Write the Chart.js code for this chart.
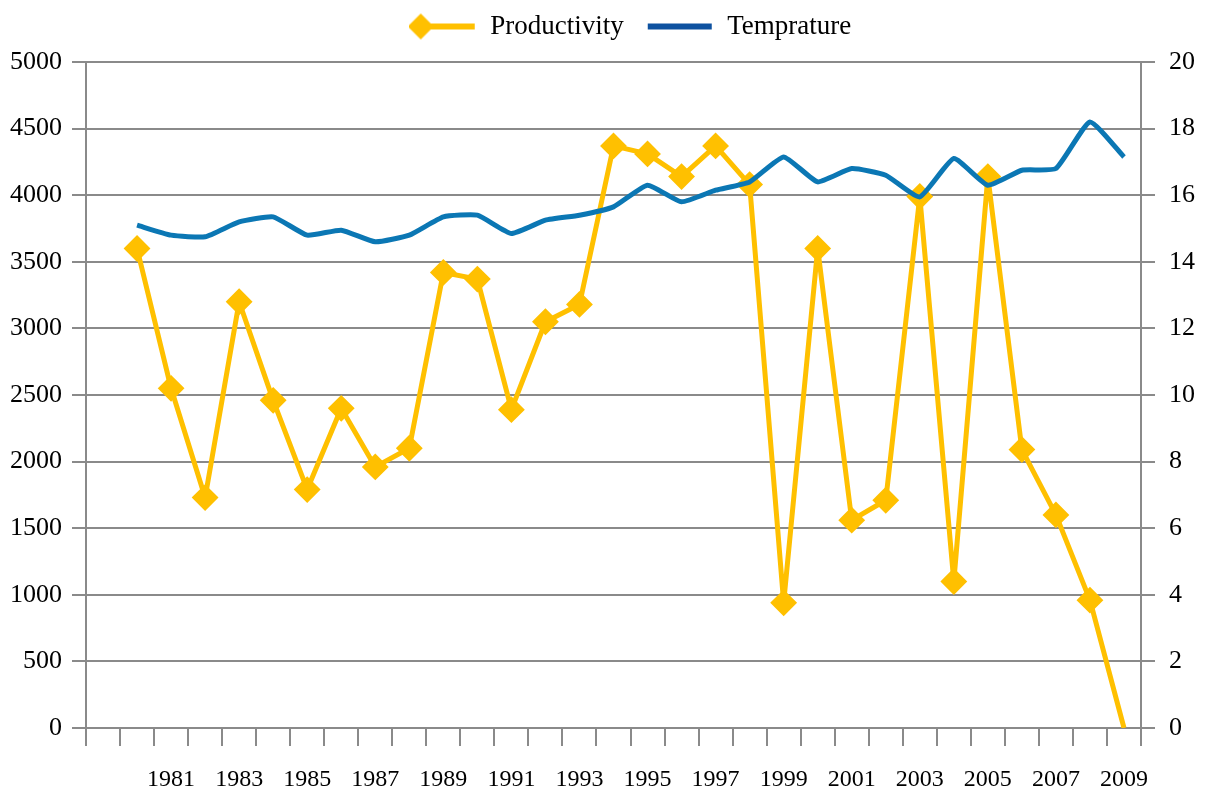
<!DOCTYPE html>
<html>
<head>
<meta charset="utf-8">
<script src="https://cdn.jsdelivr.net/npm/chart.js@4.4.1/dist/chart.umd.min.js"></script>
<style>
  html, body { margin: 0; padding: 0; background: #fff; }
  #wrap { width: 1208px; height: 800px; }
</style>
</head>
<body>
<div id="wrap"><canvas id="lineChart" width="1208" height="800"></canvas></div>
<script>
// first category is an empty slot, like in the original sheet
const categories = ['', '1980', '1981', '1982', '1983', '1984', '1985', '1986', '1987', '1988', '1989',
  '1990', '1991', '1992', '1993', '1994', '1995', '1996', '1997', '1998', '1999',
  '2000', '2001', '2002', '2003', '2004', '2005', '2006', '2007', '2008', '2009'];
const productivity = [null, 3600, 2550, 1730, 3200, 2460, 1790, 2400, 1960, 2100, 3420,
  3370, 2390, 3050, 3180, 4370, 4310, 4140, 4370, 4080, 940,
  3600, 1560, 1710, 3990, 1100, 4140, 2090, 1600, 960, 0];
const temprature = [null, 15.1, 14.8, 14.75, 15.2, 15.35, 14.8, 14.95, 14.6, 14.8, 15.35,
  15.4, 14.85, 15.25, 15.4, 15.65, 16.3, 15.8, 16.15, 16.4, 17.15,
  16.4, 16.8, 16.6, 15.95, 17.1, 16.3, 16.75, 16.8, 18.2, 17.15];
const leftTicks = [0, 500, 1000, 1500, 2000, 2500, 3000, 3500, 4000, 4500, 5000];
const rightTicks = [0, 2, 4, 6, 8, 10, 12, 14, 16, 18, 20];

const GOLD = '#ffc000';
const BLUE = '#0b77b4';
const GRID = '#8a8a8a';
const FONT = '"Liberation Serif", "DejaVu Serif", serif';

// legend samples: line with marker, like Excel
function legendSample(withDiamond, color) {
  const c = document.createElement('canvas');
  c.width = 68; c.height = 30;
  const g = c.getContext('2d');
  g.strokeStyle = color; g.lineWidth = 6;
  g.beginPath(); g.moveTo(withDiamond ? 12 : 2, 15); g.lineTo(66, 15); g.stroke();
  if (withDiamond) {
    g.fillStyle = color;
    g.beginPath(); g.moveTo(12, 2); g.lineTo(25, 15); g.lineTo(12, 28); g.lineTo(-1, 15); g.closePath(); g.fill();
  }
  return c;
}
const sampleProd = legendSample(true, GOLD);
const sampleTemp = legendSample(false, '#0e52a0');

const pointSizes = productivity.map((v, i) => (i === productivity.length - 1 ? 0 : 12));

document.addEventListener('DOMContentLoaded', () => {
  const ctx = document.getElementById('lineChart').getContext('2d');
  new Chart(ctx, {
    type: 'line',
    data: {
      labels: categories,
      datasets: [
        { label: 'Productivity', data: productivity, yAxisID: 'y', borderColor: GOLD, backgroundColor: GOLD,
          borderWidth: 5, borderJoinStyle: 'round', pointStyle: 'rectRot', pointRadius: pointSizes, pointBorderWidth: 2,
          tension: 0, order: 2 },
        { label: 'Temprature', data: temprature, yAxisID: 'y1', borderColor: BLUE, backgroundColor: BLUE,
          borderWidth: 5, borderJoinStyle: 'round', pointRadius: 0, tension: 0.15, order: 1 }
      ]
    },
    options: {
      responsive: false,
      animation: false,
      layout: { padding: 0 },
      plugins: {
        tooltip: { enabled: false },
        legend: {
          position: 'top',
          labels: {
            usePointStyle: true,
            pointStyleWidth: 68,
            padding: 22,
            color: '#000',
            font: { family: FONT, size: 27 },
            generateLabels: (chart) => chart.data.datasets.map((ds, i) => ({
              text: ds.label, pointStyle: i === 0 ? sampleProd : sampleTemp,
              fillStyle: ds.borderColor, strokeStyle: ds.borderColor, lineWidth: 0, datasetIndex: i, fontColor: '#000'
            }))
          }
        }
      },
      scales: {
        x: {
          offset: true,
          grid: { offset: true, drawOnChartArea: false, drawTicks: true, tickLength: 18, color: GRID, lineWidth: 2 },
          border: { color: GRID, width: 2 },
          ticks: {
            autoSkip: false, maxRotation: 0, padding: 19, color: '#000', font: { family: FONT, size: 24 },
            callback: function (val, i) { const y = categories[i]; return y && Number(y) % 2 === 1 ? y : ''; }
          },
          afterFit: (s) => { s.height = 72; }
        },
        y: {
          position: 'left', min: 0, max: 5000,
          afterBuildTicks: (s) => { s.ticks = leftTicks.map(v => ({ value: v })); },
          grid: { color: GRID, lineWidth: 2, tickLength: 14 },
          border: { color: GRID, width: 2 },
          ticks: { padding: 10, color: '#000', font: { family: FONT, size: 26 }, callback: (v) => String(v) },
          afterFit: (s) => { s.width = 86; }
        },
        y1: {
          position: 'right', min: 0, max: 20,
          afterBuildTicks: (s) => { s.ticks = rightTicks.map(v => ({ value: v })); },
          grid: { drawOnChartArea: false, color: GRID, lineWidth: 2, tickLength: 14 },
          border: { color: GRID, width: 2 },
          ticks: { padding: 14, color: '#000', font: { family: FONT, size: 26 }, callback: (v) => String(v) },
          afterFit: (s) => { s.width = 67; }
        }
      }
    },
    plugins: [{
      id: 'legendBox',
      beforeInit(chart) {
        const fit = chart.legend.fit;
        chart.legend.fit = function () { fit.call(this); this.height = 62; };
      },
      afterLayout(chart) {
        const lg = chart.legend;
        lg.left += 26; lg.right += 26;
        lg.top -= 9; lg.bottom -= 9;
      }
    }]
  });
});
</script>
</body>
</html>
